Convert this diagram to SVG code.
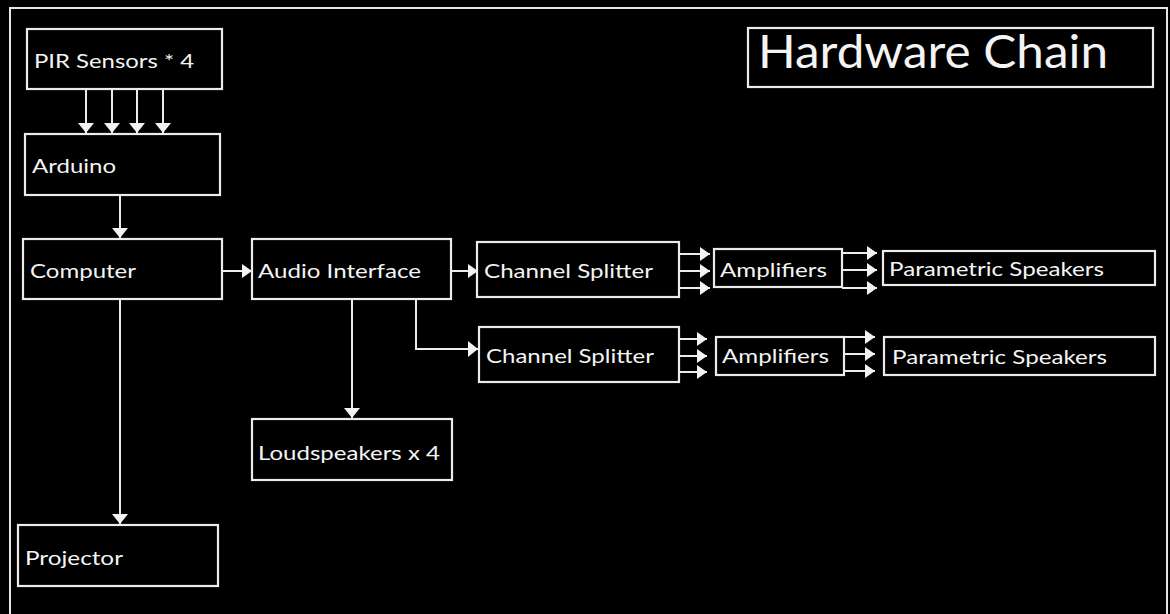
<svg xmlns="http://www.w3.org/2000/svg" width="1170" height="614" viewBox="0 0 1170 614">
<style>
.box{fill:#000;stroke:#ececec;stroke-width:2.2}
.lbl{fill:#f4f4f4;font-family:Lato,"Open Sans","DejaVu Sans",sans-serif;font-size:19px}
.ttl{fill:#f4f4f4;font-family:Lato,"Open Sans","DejaVu Sans",sans-serif;font-size:46px}
.con{fill:none;stroke:#ececec;stroke-width:2}
</style>
<defs>
<marker id="ab" markerWidth="10" markerHeight="16" refX="10" refY="8" orient="auto" markerUnits="userSpaceOnUse"><path d="M0,0 L10,8 L0,16 Z" fill="#f2f2f2"/></marker>
<marker id="as" markerWidth="10" markerHeight="14" refX="10" refY="7" orient="auto" markerUnits="userSpaceOnUse"><path d="M0,0 L10,7 L0,14 Z" fill="#f2f2f2"/></marker>
</defs>
<rect width="1170" height="614" fill="#000"/>
<rect x="10" y="8" width="1157" height="620" fill="none" stroke="#e6e6e6" stroke-width="2"/>
<g id="title"><rect class="box" x="748" y="28" width="405" height="59"/><text class="ttl" x="758" y="68" textLength="350" lengthAdjust="spacingAndGlyphs">Hardware Chain</text></g>
<g id="pir"><rect class="box" x="27" y="29" width="195" height="60"/><text class="lbl" x="34" y="68" textLength="160" lengthAdjust="spacingAndGlyphs">PIR Sensors * 4</text></g>
<g id="arduino"><rect class="box" x="25" y="134" width="195" height="61"/><text class="lbl" x="32" y="173" textLength="84" lengthAdjust="spacingAndGlyphs">Arduino</text></g>
<g id="computer"><rect class="box" x="23" y="239" width="199" height="60"/><text class="lbl" x="30" y="278" textLength="106" lengthAdjust="spacingAndGlyphs">Computer</text></g>
<g id="audio"><rect class="box" x="252" y="239" width="199" height="60"/><text class="lbl" x="258" y="278" textLength="163" lengthAdjust="spacingAndGlyphs">Audio Interface</text></g>
<g id="splitter1"><rect class="box" x="477" y="242" width="202" height="55"/><text class="lbl" x="484" y="278" textLength="169" lengthAdjust="spacingAndGlyphs">Channel Splitter</text></g>
<g id="splitter2"><rect class="box" x="479" y="327" width="200" height="55"/><text class="lbl" x="486" y="363" textLength="168" lengthAdjust="spacingAndGlyphs">Channel Splitter</text></g>
<g id="amp1"><rect class="box" x="714" y="249" width="128" height="38"/><text class="lbl" x="720" y="277" textLength="107" lengthAdjust="spacingAndGlyphs">Amplifiers</text></g>
<g id="amp2"><rect class="box" x="716" y="337" width="128" height="38"/><text class="lbl" x="722" y="363" textLength="107" lengthAdjust="spacingAndGlyphs">Amplifiers</text></g>
<g id="param1"><rect class="box" x="883" y="251" width="272" height="34"/><text class="lbl" x="889" y="276" textLength="215" lengthAdjust="spacingAndGlyphs">Parametric Speakers</text></g>
<g id="param2"><rect class="box" x="884" y="337" width="271" height="38"/><text class="lbl" x="892" y="364" textLength="215" lengthAdjust="spacingAndGlyphs">Parametric Speakers</text></g>
<g id="loudspeakers"><rect class="box" x="252" y="419" width="200" height="61"/><text class="lbl" x="258" y="460" textLength="182" lengthAdjust="spacingAndGlyphs">Loudspeakers x 4</text></g>
<g id="projector"><rect class="box" x="18" y="525" width="200" height="61"/><text class="lbl" x="25" y="565" textLength="98" lengthAdjust="spacingAndGlyphs">Projector</text></g>
<g id="connectors">
<line class="con" x1="86" y1="89" x2="86" y2="133" marker-end="url(#ab)"/>
<line class="con" x1="112" y1="89" x2="112" y2="133" marker-end="url(#ab)"/>
<line class="con" x1="137" y1="89" x2="137" y2="133" marker-end="url(#ab)"/>
<line class="con" x1="163" y1="89" x2="163" y2="133" marker-end="url(#ab)"/>
<line class="con" x1="120" y1="195" x2="120" y2="238" marker-end="url(#ab)"/>
<line class="con" x1="120" y1="299" x2="120" y2="524" marker-end="url(#ab)"/>
<line class="con" x1="222" y1="271" x2="252" y2="271" marker-end="url(#as)"/>
<line class="con" x1="451" y1="271" x2="478" y2="271" marker-end="url(#as)"/>
<line class="con" x1="352" y1="299" x2="352" y2="418" marker-end="url(#ab)"/>
<polyline class="con" points="416,299 416,349 478,349" marker-end="url(#ab)"/>
<line class="con" x1="679" y1="254" x2="710" y2="254" marker-end="url(#as)"/>
<line class="con" x1="679" y1="271" x2="710" y2="271" marker-end="url(#as)"/>
<line class="con" x1="679" y1="288" x2="710" y2="288" marker-end="url(#as)"/>
<line class="con" x1="679" y1="339" x2="707" y2="339" marker-end="url(#as)"/>
<line class="con" x1="679" y1="356" x2="707" y2="356" marker-end="url(#as)"/>
<line class="con" x1="679" y1="372" x2="707" y2="372" marker-end="url(#as)"/>
<line class="con" x1="842" y1="253" x2="877" y2="253" marker-end="url(#as)"/>
<line class="con" x1="842" y1="270" x2="877" y2="270" marker-end="url(#as)"/>
<line class="con" x1="842" y1="288" x2="877" y2="288" marker-end="url(#as)"/>
<line class="con" x1="844" y1="337" x2="875" y2="337" marker-end="url(#as)"/>
<line class="con" x1="844" y1="354" x2="875" y2="354" marker-end="url(#as)"/>
<line class="con" x1="844" y1="371" x2="875" y2="371" marker-end="url(#as)"/>
</g>
</svg>
